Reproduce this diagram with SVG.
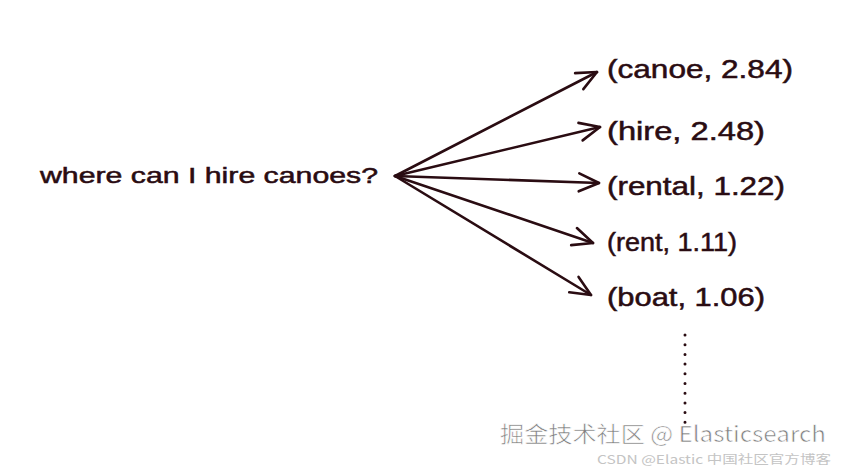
<svg xmlns="http://www.w3.org/2000/svg" width="841" height="469" viewBox="0 0 841 469">
<style>
.t{font-family:"Liberation Sans","Noto Sans",sans-serif;fill:#2a0c12;stroke:#2a0c12;stroke-width:0.5}
.lbl{font-size:25px}
.src{font-size:22px}
.c{stroke:#2a0c12;stroke-width:2.6;fill:none;stroke-linecap:round;stroke-linejoin:round}
.wm{font-family:"Noto Sans CJK SC","Liberation Sans",sans-serif}
</style>
<defs>
<marker id="ah" markerUnits="userSpaceOnUse" markerWidth="30" markerHeight="30" refX="0" refY="0" viewBox="-25 -15 30 30" orient="auto" overflow="visible">
<path d="M-20,-9 L0,0 L-20,9" fill="none" stroke="#2a0c12" stroke-width="2.6" stroke-linecap="round" stroke-linejoin="round"/>
</marker>
</defs>
<rect width="841" height="469" fill="#ffffff"/>
<g id="query"><text class="t src" x="40" y="183" textLength="338" lengthAdjust="spacingAndGlyphs">where can I hire canoes?</text></g>
<g id="connectors">
<path class="c" d="M395,176 L597,72" marker-end="url(#ah)"/>
<path class="c" d="M395,176 L600,127" marker-end="url(#ah)"/>
<path class="c" d="M395,176 L599,183" marker-end="url(#ah)"/>
<path class="c" d="M395,176 L593,243" marker-end="url(#ah)"/>
<path class="c" d="M395,176 L591,295" marker-end="url(#ah)"/>
<line x1="685" y1="335" x2="685" y2="424" stroke="#2a0c12" stroke-width="3" stroke-linecap="round" stroke-dasharray="0 9.7"/>
</g>
<g id="canoe"><text class="t lbl" x="607" y="78" textLength="186" lengthAdjust="spacingAndGlyphs">(canoe, 2.84)</text></g>
<g id="hire"><text class="t lbl" x="607" y="140" textLength="158" lengthAdjust="spacingAndGlyphs">(hire, 2.48)</text></g>
<g id="rental"><text class="t lbl" x="607" y="195" textLength="178" lengthAdjust="spacingAndGlyphs">(rental, 1.22)</text></g>
<g id="rent"><text class="t lbl" x="607" y="251" textLength="130" lengthAdjust="spacingAndGlyphs">(rent, 1.11)</text></g>
<g id="boat"><text class="t lbl" x="607" y="306" textLength="158" lengthAdjust="spacingAndGlyphs">(boat, 1.06)</text></g>
<g id="watermark">
<text class="wm" x="500" y="442" font-size="22" fill="#7e7e7e" stroke="#ffffff" stroke-width="0.6" textLength="326" lengthAdjust="spacingAndGlyphs">掘金技术社区 @ Elasticsearch</text>
<text class="wm" x="597" y="464" font-size="12" fill="#c4c4c4" textLength="234" lengthAdjust="spacingAndGlyphs">CSDN @Elastic 中国社区官方博客</text>
</g>
</svg>
